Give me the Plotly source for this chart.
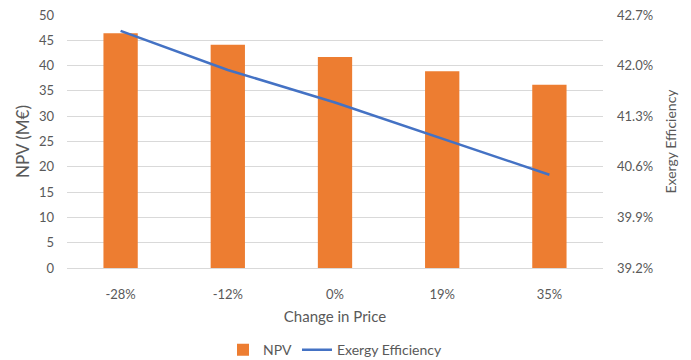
import plotly.graph_objects as go

# Sensitivity of NPV and exergy efficiency to price change
categories = ["-28%", "-12%", "0%", "19%", "35%"]
npv = [46.4, 44.1, 41.7, 38.9, 36.2]             # M€
exergy_eff = [42.48, 41.94, 41.49, 40.99, 40.49]  # %

npv_ticks = list(range(0, 51, 5))
eff_ticks = [39.2, 39.9, 40.6, 41.3, 42.0, 42.7]

FONT = "Lato"
GREY = "#595959"

fig = go.Figure()
fig.add_trace(go.Bar(
    x=categories, y=npv, name="NPV",
    marker=dict(color="#ED7D31", line=dict(width=0)),
))
fig.add_trace(go.Scatter(
    x=categories, y=exergy_eff, name="Exergy Efficiency",
    mode="lines", line=dict(color="#4472C4", width=2.5),
    yaxis="y2",
))

fig.update_layout(
    width=691, height=360,
    margin=dict(l=67, r=88, t=15, b=92, autoexpand=False),
    paper_bgcolor="white", plot_bgcolor="white",
    font=dict(family=FONT, color=GREY, size=13),
    bargap=0.68,
    showlegend=True,
    legend=dict(orientation="h", x=0.5, xanchor="center", y=-0.325, yanchor="middle",
                font=dict(size=14, color=GREY), itemwidth=30, traceorder="normal"),
    xaxis=dict(
        type="category", showgrid=False, showline=True, linecolor="#D9D9D9", linewidth=1,
        ticks="", ticklabelstandoff=14, automargin=False,
        title=dict(text="Change in Price", font=dict(size=15, color=GREY), standoff=10),
    ),
    yaxis=dict(
        range=[0, 50], tickvals=npv_ticks, showgrid=True, gridcolor="#D9D9D9", gridwidth=1,
        zeroline=False, showline=False, ticks="", ticklabelstandoff=12, automargin=False,
        title=dict(text="NPV (M€)", font=dict(size=17, color=GREY), standoff=4),
    ),
    yaxis2=dict(
        overlaying="y", side="right", range=[39.2, 42.7],
        tickvals=eff_ticks, ticktext=[f"{v:.1f}%" for v in eff_ticks],
        showgrid=False, zeroline=False, showline=False, ticks="", ticklabelstandoff=13,
        automargin=False,
        title=dict(text="Exergy Efficiency", font=dict(size=14, color=GREY), standoff=14),
    ),
)

fig.write_html("out.html")
